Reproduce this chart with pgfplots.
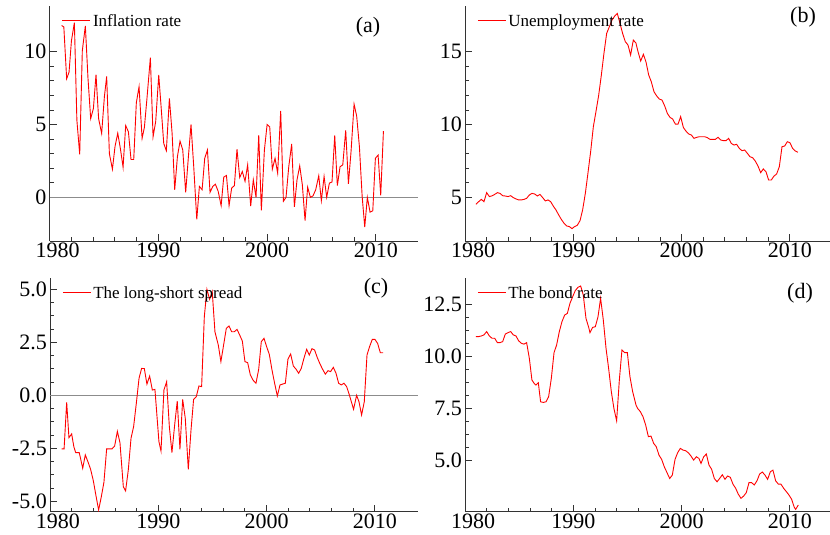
\documentclass[border=0pt]{standalone}
\usepackage{fontspec}
\setmainfont{Liberation Serif}
\usepackage{pgfplots}
\pgfplotsset{compat=1.18}
\pgfplotsset{
  panel/.style={
    scale only axis,
    axis lines*=left,
    axis line style={black!80, line width=0.9pt},
    tick style={black!80, line width=0.9pt},
    tick align=inside,
    major tick length=7pt,
    minor tick length=4pt,
    xmin=1980,
    xtick={1980,1990,2000,2010},
    xticklabels={\hspace*{16pt}1980,1990,2000,2010},
    minor x tick num=4,
    tick label style={font=\fontsize{22}{24}\selectfont},
    xticklabel style={inner sep=2pt},
    yticklabel style={inner sep=3pt},
    legend style={at={(0,1)}, anchor=west, xshift=12pt, yshift=-15pt,
      draw=none, fill=none, inner sep=0pt,
      font=\fontsize{17}{19}\selectfont},
    legend cell align=left,
    legend image code/.code={\draw[draw=red, line width=1.1pt] (0pt,0.5pt) -- (28pt,0.5pt);},
  },
  ser/.style={red, line width=0.9pt, mark=none},
  zero/.style={black!45, line width=0.9pt, forget plot},
}
\begin{document}
\begin{tikzpicture}
\useasboundingbox (0pt,0pt) rectangle (830pt,535pt);
% (a)
\begin{axis}[panel, at={(49.7pt,294pt)}, anchor=south west,
  width=368.3pt, height=235pt, xmax=2013.88, ymin=-3.0, ymax=13.14,
  ytick={0,5,10}, yticklabels={0,5,10}, minor y tick num=4]
\addplot[zero] coordinates {(1980,0) (2013.88,0)};
\addplot[ser] coordinates {
(1981.1,11.8) (1981.3,11.7) (1981.56,8.14) (1981.78,8.6) (1982.0,10.75) (1982.27,12.0)
(1982.5,5.3) (1982.76,2.95) (1983.0,10.07) (1983.28,11.77) (1983.52,8.2) (1983.77,5.4)
(1984.02,6.1) (1984.26,8.43) (1984.5,5.4) (1984.78,4.39) (1985.03,6.9) (1985.24,8.3)
(1985.49,3.0) (1985.77,1.93) (1986.01,3.5) (1986.26,4.4) (1986.5,3.36) (1986.75,2.07)
(1986.99,4.93) (1987.24,4.5) (1987.48,2.6) (1987.73,2.6) (1987.97,6.5) (1988.22,7.6)
(1988.5,4.05) (1988.71,4.8) (1988.96,6.9) (1989.26,9.6) (1989.51,4.16) (1989.75,5.2)
(1990.03,8.4) (1990.24,6.3) (1990.49,3.7) (1990.73,3.2) (1991.01,6.8) (1991.26,4.4)
(1991.5,0.52) (1991.75,2.8) (1991.99,3.86) (1992.24,3.25) (1992.51,0.34) (1992.76,2.8)
(1993.0,5.0) (1993.25,2.1) (1993.53,-1.52) (1993.77,0.75) (1994.02,0.52) (1994.26,2.68)
(1994.51,3.25) (1994.75,0.34) (1995.0,0.75) (1995.24,0.9) (1995.5,0.41) (1995.77,-0.57)
(1996.01,1.39) (1996.26,1.5) (1996.5,-0.57) (1996.74,0.64) (1996.99,0.8) (1997.23,3.3)
(1997.48,1.36) (1997.72,1.77) (1997.97,1.1) (1998.21,2.23) (1998.49,-0.6) (1998.73,1.2)
(1998.98,0) (1999.23,4.27) (1999.47,-0.9) (1999.75,3.25) (2000.0,5.0) (2000.24,4.84)
(2000.48,1.93) (2000.73,2.68) (2000.97,1.66) (2001.25,5.93) (2001.5,-0.27) (2001.74,0)
(2001.99,2.1) (2002.26,3.66) (2002.51,-0.66) (2002.75,1.2) (2003.0,2.16) (2003.24,0.86)
(2003.49,-1.6) (2003.73,0.7) (2003.98,0) (2004.22,0.1) (2004.47,0.52) (2004.75,1.48)
(2004.99,-0.23) (2005.24,1.43) (2005.48,0) (2005.73,0.98) (2005.97,1.05) (2006.22,4.25)
(2006.46,0.8) (2006.71,2.1) (2006.96,2.23) (2007.23,4.6) (2007.48,0.93) (2007.72,3.14)
(2008.0,6.4) (2008.24,5.57) (2008.49,3.48) (2008.74,0.1) (2008.98,-2.05) (2009.22,0)
(2009.47,-1.02) (2009.72,-0.93) (2009.96,2.68) (2010.21,2.9) (2010.45,0.14) (2010.7,4.55)
};
\legend{Inflation rate}
\end{axis}
% (b)
\begin{axis}[panel, at={(465pt,294pt)}, anchor=south west,
  width=365pt, height=235pt, xmax=2013.7, ymin=2.0, ymax=18.14,
  ytick={5,10,15}, yticklabels={5,10,15}, minor y tick num=4]
\addplot[ser] coordinates {
(1981.0,4.52) (1981.26,4.7) (1981.51,4.86) (1981.75,4.7) (1982.0,5.32) (1982.25,5.05)
(1982.49,5.1) (1982.74,5.2) (1982.99,5.32) (1983.23,5.27) (1983.48,5.11) (1983.72,5.09)
(1983.97,5.05) (1984.22,5.11) (1984.46,4.98) (1984.71,4.89) (1984.95,4.82) (1985.2,4.82)
(1985.45,4.86) (1985.69,4.93) (1985.94,5.16) (1986.18,5.27) (1986.43,5.23) (1986.68,5.09)
(1986.92,5.2) (1987.17,4.98) (1987.42,4.75) (1987.66,4.82) (1987.91,4.7) (1988.15,4.4)
(1988.4,4.13) (1988.65,3.79) (1988.89,3.49) (1989.14,3.22) (1989.39,3.03) (1989.63,2.99)
(1989.88,2.85) (1990.12,2.99) (1990.37,3.08) (1990.62,3.4) (1990.86,4.13) (1991.11,5.27)
(1991.35,6.65) (1991.6,8.13) (1991.85,9.85) (1992.09,10.88) (1992.34,12.0) (1992.59,13.4)
(1992.83,14.9) (1993.08,16.26) (1993.32,16.7) (1993.57,17.17) (1993.82,17.45) (1994.06,17.63)
(1994.31,16.95) (1994.55,16.26) (1994.8,15.69) (1995.05,15.46) (1995.29,14.77) (1995.54,15.8)
(1995.78,15.6) (1995.94,15.1) (1996.22,14.36) (1996.47,14.82) (1996.71,14.3) (1996.96,13.4)
(1997.2,12.94) (1997.45,12.25) (1997.7,11.96) (1997.94,11.75) (1998.19,11.68) (1998.44,11.27)
(1998.68,10.77) (1998.93,10.49) (1999.17,10.38) (1999.42,10.03) (1999.67,10.03) (1999.91,10.54)
(2000.16,9.8) (2000.4,9.55) (2000.65,9.35) (2000.9,9.28) (2001.14,9.05) (2001.39,9.12)
(2001.63,9.16) (2001.88,9.16) (2002.13,9.16) (2002.37,9.1) (2002.62,8.98) (2002.87,8.98)
(2003.11,8.98) (2003.36,9.12) (2003.6,8.94) (2003.85,8.89) (2004.1,8.89) (2004.34,9.05)
(2004.59,8.7) (2004.84,8.59) (2005.08,8.64) (2005.33,8.36) (2005.57,8.2) (2005.82,8.25)
(2006.07,8.02) (2006.31,7.79) (2006.56,7.72) (2006.8,7.49) (2007.05,7.15) (2007.3,6.69)
(2007.54,6.95) (2007.79,6.76) (2008.03,6.19) (2008.28,6.19) (2008.53,6.46) (2008.77,6.6)
(2009.02,7.1) (2009.27,8.48) (2009.51,8.52) (2009.76,8.82) (2010.0,8.75) (2010.25,8.36)
(2010.5,8.18) (2010.74,8.09)
};
\legend{Unemployment rate}
\end{axis}
% (c)
\begin{axis}[panel, at={(50pt,23.3pt)}, anchor=south west,
  width=368pt, height=233.4pt, xmax=2013.98, ymin=-5.49, ymax=5.52,
  ytick={-5,-2.5,0,2.5,5}, yticklabels={-5.0,-2.5,0.0,2.5,5.0}, minor y tick num=3]
\addplot[zero] coordinates {(1980,0) (2013.98,0)};
\addplot[ser] coordinates {
(1981.08,-2.53) (1981.3,-2.53) (1981.54,-0.33) (1981.75,-2.0) (1982.0,-1.82) (1982.2,-2.42)
(1982.37,-2.7) (1982.7,-2.7) (1983.02,-3.44) (1983.26,-2.81) (1983.5,-3.13) (1983.75,-3.49)
(1984.0,-4.03) (1984.25,-4.75) (1984.49,-5.41) (1984.74,-4.78) (1984.98,-4.1) (1985.23,-2.53)
(1985.47,-2.53) (1985.72,-2.53) (1985.97,-2.39) (1986.22,-1.7) (1986.46,-2.23) (1986.77,-4.31)
(1986.98,-4.51) (1987.23,-3.52) (1987.48,-2.03) (1987.72,-1.48) (1987.97,-0.38) (1988.22,0.8)
(1988.46,1.27) (1988.71,1.26) (1988.95,0.53) (1989.2,0.91) (1989.45,0.25) (1989.69,0.28)
(1989.94,-1.4) (1990.06,-2.19) (1990.25,-2.63) (1990.52,0.25) (1990.77,0.64) (1991.02,-1.48)
(1991.26,-2.7) (1991.51,-1.4) (1991.75,-0.27) (1992.0,-2.55) (1992.25,-0.19) (1992.49,-1.08)
(1992.77,-3.49) (1993.02,-1.64) (1993.26,-0.19) (1993.51,-0.06) (1993.75,0.44) (1994.0,0.41)
(1994.25,3.71) (1994.49,5.0) (1994.74,4.53) (1994.98,4.89) (1995.23,3.0) (1995.54,2.37)
(1995.78,1.59) (1996.03,2.37) (1996.28,3.16) (1996.53,3.27) (1996.77,3.0) (1997.02,3.0)
(1997.27,3.11) (1997.51,2.85) (1997.76,2.56) (1998.0,1.59) (1998.25,1.54) (1998.5,0.96)
(1998.74,0.72) (1999.02,0.57) (1999.27,1.23) (1999.51,2.53) (1999.76,2.69) (2000.0,2.3)
(2000.25,1.93) (2000.5,1.19) (2000.74,0.57) (2000.99,-0.03) (2001.24,0.49) (2001.48,0.53)
(2001.73,0.57) (2001.97,1.7) (2002.22,1.95) (2002.47,1.38) (2002.71,1.24) (2002.96,1.04)
(2003.2,1.27) (2003.45,1.75) (2003.7,2.17) (2003.94,1.9) (2004.19,2.2) (2004.43,2.14)
(2004.68,1.78) (2004.93,1.48) (2005.17,1.23) (2005.42,1.0) (2005.67,1.16) (2005.91,1.12)
(2006.16,1.32) (2006.41,1.04) (2006.65,0.57) (2006.9,0.49) (2007.14,0.57) (2007.39,0.41)
(2007.64,0.02) (2008.03,-0.66) (2008.31,0.0) (2008.53,-0.3) (2008.77,-0.93) (2009.02,-0.3)
(2009.27,1.9) (2009.51,2.3) (2009.76,2.64) (2010.0,2.64) (2010.25,2.45) (2010.5,2.01)
(2010.77,2.01)
};
\legend{The long-short spread}
\end{axis}
% (d)
\begin{axis}[panel, at={(465pt,23.3pt)}, anchor=south west,
  width=365pt, height=233.4pt, xmax=2013.7, ymin=2.56, ymax=13.73,
  ytick={5,7.5,10,12.5}, yticklabels={5.0,7.5,10.0,12.5}, minor y tick num=3]
\addplot[ser] coordinates {
(1981.0,10.94) (1981.26,10.94) (1981.51,10.97) (1981.75,11.02) (1982.0,11.18) (1982.25,10.97)
(1982.49,10.86) (1982.74,10.86) (1982.99,10.65) (1983.23,10.65) (1983.48,10.7) (1983.72,11.06)
(1983.97,11.13) (1984.22,11.18) (1984.46,11.02) (1984.71,10.97) (1984.95,10.74) (1985.2,10.62)
(1985.45,10.58) (1985.69,10.65) (1985.94,9.9) (1986.18,8.86) (1986.43,8.67) (1986.55,8.62)
(1986.77,8.73) (1986.98,7.82) (1987.23,7.79) (1987.48,7.82) (1987.72,8.06) (1987.97,8.94)
(1988.22,10.17) (1988.46,10.54) (1988.71,11.18) (1988.95,11.65) (1989.2,11.97) (1989.45,12.05)
(1989.69,12.53) (1989.94,12.85) (1990.18,13.14) (1990.43,13.3) (1990.68,13.36) (1990.92,12.93)
(1991.17,11.81) (1991.42,11.38) (1991.54,11.13) (1991.78,11.38) (1992.03,11.41) (1992.28,11.89)
(1992.52,12.77) (1992.77,11.73) (1993.02,10.38) (1993.26,9.42) (1993.51,8.3) (1993.75,7.5)
(1994.0,6.91) (1994.25,8.86) (1994.49,10.3) (1994.74,10.17) (1994.99,10.17) (1995.23,9.02)
(1995.48,8.3) (1995.79,7.66) (1995.94,7.5) (1996.19,7.35) (1996.43,7.11) (1996.68,6.71)
(1996.93,6.15) (1997.17,6.18) (1997.42,5.83) (1997.66,5.67) (1997.91,5.27) (1998.16,5.06)
(1998.4,4.71) (1998.65,4.43) (1998.9,4.15) (1999.14,4.31) (1999.39,5.06) (1999.63,5.38)
(1999.88,5.59) (2000.13,5.51) (2000.37,5.48) (2000.62,5.38) (2000.87,5.22) (2001.11,5.03)
(2001.36,5.19) (2001.6,5.11) (2001.79,4.87) (2002.04,5.19) (2002.28,5.32) (2002.53,4.79)
(2002.77,4.59) (2003.02,4.15) (2003.27,3.99) (2003.51,4.15) (2003.76,4.33) (2004.0,4.11)
(2004.25,4.27) (2004.5,4.2) (2004.74,3.88) (2004.99,3.68) (2005.23,3.4) (2005.48,3.2)
(2005.73,3.31) (2005.97,3.47) (2006.22,3.95) (2006.46,3.95) (2006.71,3.84) (2006.96,4.04)
(2007.2,4.36) (2007.45,4.46) (2007.7,4.31) (2007.94,4.11) (2008.19,4.47) (2008.43,4.55)
(2008.68,4.04) (2008.93,3.88) (2009.17,3.88) (2009.42,3.68) (2009.67,3.52) (2009.91,3.36)
(2010.16,3.15) (2010.4,2.77) (2010.53,2.67) (2010.77,2.88)
};
\legend{The bond rate}
\end{axis}
\node[font=\fontsize{22}{24}\selectfont] at (368pt,508pt) {(a)};
\node[font=\fontsize{22}{24}\selectfont] at (803pt,518pt) {(b)};
\node[font=\fontsize{22}{24}\selectfont] at (376pt,247pt) {(c)};
\node[font=\fontsize{22}{24}\selectfont] at (800pt,242pt) {(d)};
\end{tikzpicture}
\end{document}
